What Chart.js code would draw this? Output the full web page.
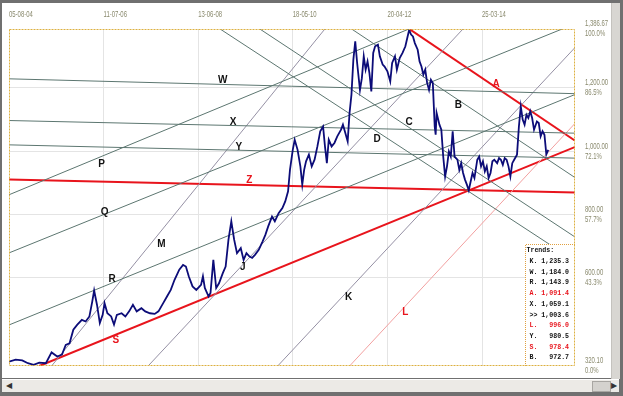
<!DOCTYPE html>
<html>
<head>
<meta charset="utf-8">
<script src="https://cdn.jsdelivr.net/npm/chart.js@4.4.0/dist/chart.umd.min.js"></script>
<style>
html, body { margin: 0; padding: 0; background: #fff; }
#frame { position: relative; width: 623px; height: 396px; background: #707070; overflow: hidden; }
#inner { position: absolute; left: 2px; top: 3px; width: 609px; height: 375px; background: #fff; }
#vbar { position: absolute; left: 611px; top: 3px; width: 8px; height: 376px; background: #d8d6d2; border-left: 1px solid #c4c2be; }
#hbar { position: absolute; left: 2px; top: 379px; width: 617px; height: 12px; background: #eceae6; border-top: 1px solid #fff; }
#larrow { position: absolute; left: 1px; top: 1px; width: 11px; height: 10px; font: 8px sans-serif; color: #333; line-height: 10px; text-align: center; }
#thumb { position: absolute; left: 590px; top: 1px; width: 17px; height: 9px; background: #d4d2ce; border: 1px solid #a8a6a2; }
#rarrow { position: absolute; left: 608px; top: 1px; width: 8px; height: 10px; font: 8px sans-serif; color: #333; line-height: 10px; text-align: center; }
canvas { position: absolute; left: 0; top: 0; }
</style>
</head>
<body>
<div id="frame">
  <div id="inner"></div>
  <div id="vbar"></div>
  <div id="hbar"><div id="larrow">&#9664;</div><div id="thumb"></div><div id="rarrow">&#9654;</div></div>
  <canvas id="chart" width="623" height="396"></canvas>
</div>
<script>
// axis labels
const xTickLabels = ['05-08-04', '11-07-06', '13-06-08', '18-05-10', '20-04-12', '25-03-14'];
const yTickValues = [320.10, 600, 800, 1000, 1200, 1386.67];
const yTickLabels = ['320.10', '600.00', '800.00', '1,000.00', '1,200.00', '1,386.67'];
const yTickPercent = ['0.0%', '43.3%', '57.7%', '72.1%', '86.5%', '100.0%'];

// price series (x = bar index)
const priceX = [0, 7, 14, 20, 26, 32, 39, 45, 51, 56, 60, 64, 68, 72, 77, 81, 85, 88, 90, 93, 96, 99, 101, 104, 108, 111, 114, 119, 123, 127, 131, 135, 140, 144, 149, 154, 158, 163, 167, 171, 175, 180, 184, 187, 190, 194, 198, 203, 205, 207, 211, 213, 216, 219, 222, 226, 229, 232, 235, 238, 241, 245, 248, 251, 254, 257, 260, 264, 268, 271, 274, 278, 281, 285, 289, 292, 295, 297, 300, 302, 305, 308, 310, 312, 314, 317, 320, 323, 326, 329, 332, 334, 336, 338, 341, 344, 347, 351, 353, 355, 358, 360, 362, 364, 366, 368, 371, 373, 375, 377, 379, 381, 383, 385, 387, 390, 392, 395, 397, 400, 403, 405, 408, 410, 413, 416, 419, 421, 423, 425, 427, 429, 432, 434, 436, 438, 440, 442, 444, 446, 448, 450, 451, 452, 455, 457, 459, 461, 463, 465, 467, 469, 471, 474, 476, 478, 480, 482, 484, 486, 488, 490, 492, 495, 497, 499, 501, 503, 505, 507, 509, 511, 513, 516, 518, 520, 522, 524, 526, 528, 530, 532, 534, 537, 539, 541, 543, 545, 547, 549, 551, 553, 555, 558, 560, 562, 564, 566, 568, 570];
const priceY = [334, 340, 338, 329, 324, 331, 329, 363, 350, 356, 387, 392, 435, 450, 466, 461, 477, 524, 559, 514, 456, 482, 519, 487, 477, 451, 482, 487, 477, 493, 514, 493, 503, 493, 487, 485, 493, 519, 540, 561, 593, 625, 640, 635, 604, 572, 561, 577, 604, 567, 540, 551, 656, 567, 582, 614, 635, 720, 778, 720, 677, 693, 656, 677, 667, 662, 672, 688, 714, 735, 762, 793, 778, 804, 820, 841, 873, 941, 1005, 1036, 1005, 952, 894, 941, 968, 989, 952, 973, 1015, 1063, 1078, 1015, 962, 1036, 1015, 1026, 1047, 1068, 1084, 1063, 1031, 1121, 1179, 1289, 1348, 1279, 1194, 1231, 1300, 1258, 1284, 1247, 1189, 1311, 1332, 1337, 1300, 1274, 1268, 1253, 1221, 1279, 1300, 1258, 1295, 1311, 1332, 1358, 1384, 1369, 1363, 1342, 1321, 1284, 1268, 1242, 1258, 1216, 1194, 1226, 1216, 1078, 1052, 1121, 1084, 1068, 983, 920, 952, 999, 983, 1063, 983, 973, 941, 962, 931, 910, 894, 876, 904, 931, 915, 973, 983, 952, 968, 936, 952, 915, 931, 968, 973, 962, 978, 973, 957, 978, 973, 952, 920, 962, 973, 989, 1078, 1142, 1100, 1084, 1115, 1105, 1126, 1105, 1068, 1094, 1089, 1047, 1063, 1052, 990, 1004];

// trend lines: start and end points [bar, value]
const lineNames = ['W', 'X', 'Y', 'P', 'Q', 'R', 'B', 'C', 'D', 'M', 'J', 'K', 'L', 'Z', 'S', 'A'];
const lineFrom = [[0, 1229], [0, 1097], [0, 1020], [0, 862], [0, 678], [0, 450], [362, 1387], [265, 1387], [223, 1387], [45, 320], [147, 320], [284, 320], [360, 320], [0, 910], [32, 320], [423, 1387]];
const lineTo = [[598, 1182], [598, 1057], [598, 978], [423, 1387], [585, 1387], [598, 1179], [598, 917], [598, 729], [598, 653], [334, 1387], [480, 1387], [598, 1327], [598, 1087], [598, 869], [598, 1013], [598, 1034]];
const labelX = [226, 237, 243, 98, 101, 109, 475, 423, 389, 161, 247, 359, 419, 254, 113, 515];
const labelY = [1226, 1091, 1013, 960, 808, 595, 1144, 1091, 1038, 706, 632, 537, 489, 909, 403, 1213];

// trends box
const trendKeys = ['K.', 'W.', 'R.', 'A.', 'X.', '>>', 'L.', 'Y.', 'S.', 'B.'];
const trendValues = [1235.3, 1184.0, 1143.9, 1091.4, 1059.1, 1003.6, 996.0, 980.5, 978.4, 972.7];

const redLines = ['Z', 'S', 'A'];
const thinLines = ['M', 'J', 'K'];
const pinkLines = ['L'];

function lineStyle(name) {
    if (redLines.includes(name)) return { color: '#e8141c', width: 2 };
    if (pinkLines.includes(name)) return { color: '#f2a0a0', width: 1 };
    if (thinLines.includes(name)) return { color: '#9590a4', width: 1 };
    return { color: '#5c7670', width: 1 };
}

const datasets = [{
    data: priceX.map((x, i) => ({ x: x, y: priceY[i] })),
    borderColor: '#0c0c78',
    borderWidth: 1.8,
    pointRadius: 0,
    clip: 0
}];
lineNames.forEach((name, i) => {
    const st = lineStyle(name);
    datasets.push({
        data: [{ x: lineFrom[i][0], y: lineFrom[i][1] }, { x: lineTo[i][0], y: lineTo[i][1] }],
        borderColor: st.color,
        borderWidth: st.width,
        pointRadius: 0,
        clip: 0
    });
});

// narrow text like the original terminal font
function narrowText(ctx, text, x, y) {
    ctx.save();
    ctx.translate(x, y);
    ctx.scale(0.7, 1);
    ctx.fillText(text, 0, 0);
    ctx.restore();
}

const overlay = {
    id: 'overlay',
    afterDatasetsDraw(chart) {
        const ctx = chart.ctx;
        const a = chart.chartArea;
        const xs = chart.scales.x, ys = chart.scales.y;

        // line letters
        ctx.save();
        ctx.font = 'bold 10px "Liberation Sans", sans-serif';
        ctx.textAlign = 'center';
        ctx.textBaseline = 'middle';
        lineNames.forEach((name, i) => {
            const red = redLines.includes(name) || pinkLines.includes(name);
            ctx.fillStyle = red ? '#e8141c' : '#111';
            ctx.fillText(name, xs.getPixelForValue(labelX[i]), ys.getPixelForValue(labelY[i]));
        });
        ctx.restore();

        // trends box
        const bx = a.right - 50, by = a.bottom - 122;
        ctx.save();
        ctx.fillStyle = '#fff';
        ctx.fillRect(bx, by, a.right - bx, a.bottom - by);
        ctx.strokeStyle = '#e0a040';
        ctx.lineWidth = 1;
        ctx.setLineDash([1, 1]);
        ctx.beginPath();
        ctx.moveTo(bx + 0.5, a.bottom);
        ctx.lineTo(bx + 0.5, by + 0.5);
        ctx.lineTo(a.right, by + 0.5);
        ctx.stroke();
        ctx.setLineDash([]);
        ctx.font = 'bold 6.6px "Liberation Mono", monospace';
        ctx.textAlign = 'left';
        ctx.textBaseline = 'middle';
        ctx.fillStyle = '#111';
        ctx.fillText('Trends:', bx + 1.5, by + 6);
        trendKeys.forEach((k, i) => {
            const v = trendValues[i].toLocaleString('en-US', { minimumFractionDigits: 1, maximumFractionDigits: 1 });
            const red = k === 'A.' || k === 'L.' || k === 'S.';
            ctx.fillStyle = red ? '#e8141c' : '#111';
            ctx.fillText(k + ' ' + v.padStart(7, ' '), bx + 4.5, by + 17.4 + i * 10.7);
        });
        ctx.restore();

        // dotted plot border
        ctx.save();
        ctx.strokeStyle = '#dcb040';
        ctx.lineWidth = 1;
        ctx.setLineDash([2, 1]);
        ctx.strokeRect(a.left + 0.5, a.top + 0.5, a.right - a.left - 1, a.bottom - a.top - 1);
        ctx.restore();

        // tick labels, placed from the scales
        ctx.save();
        ctx.font = '8.5px "Liberation Sans", sans-serif';
        ctx.fillStyle = '#8a8a6e';
        ctx.textAlign = 'left';
        ctx.textBaseline = 'middle';
        xs.ticks.forEach((t, i) => narrowText(ctx, xTickLabels[i], xs.getPixelForValue(t.value), a.top - 14.5));
        ys.ticks.forEach((t, i) => {
            const y = ys.getPixelForValue(t.value);
            narrowText(ctx, yTickLabels[i], a.right + 10, y - 5);
            narrowText(ctx, yTickPercent[i], a.right + 10, y + 5);
        });
        ctx.restore();
    }
};

new Chart(document.getElementById('chart').getContext('2d'), {
    type: 'line',
    data: { datasets: datasets },
    options: {
        responsive: false,
        animation: false,
        events: [],
        layout: { padding: { left: 9, right: 0, top: 0, bottom: 30 } },
        plugins: { legend: { display: false }, tooltip: { enabled: false } },
        elements: { line: { tension: 0 } },
        scales: {
            x: {
                type: 'linear',
                position: 'top',
                min: 0,
                max: 598.3,
                afterBuildTicks: s => { s.ticks = xTickLabels.map((l, i) => ({ value: i * 100 })); },
                afterFit: s => { s.height = 29; },
                border: { display: false },
                grid: { drawTicks: false, color: c => c.index === 0 ? 'rgba(0,0,0,0)' : '#e4e4e4' },
                ticks: { display: false }
            },
            y: {
                type: 'linear',
                position: 'right',
                min: 320.10,
                max: 1386.67,
                afterBuildTicks: s => { s.ticks = yTickValues.map(v => ({ value: v })); },
                afterFit: s => { s.width = 48; },
                border: { display: false },
                grid: { drawTicks: false, color: c => (c.index === 0 || c.index === yTickValues.length - 1) ? 'rgba(0,0,0,0)' : '#e4e4e4' },
                ticks: { display: false }
            }
        }
    },
    plugins: [overlay]
});
</script>
</body>
</html>
